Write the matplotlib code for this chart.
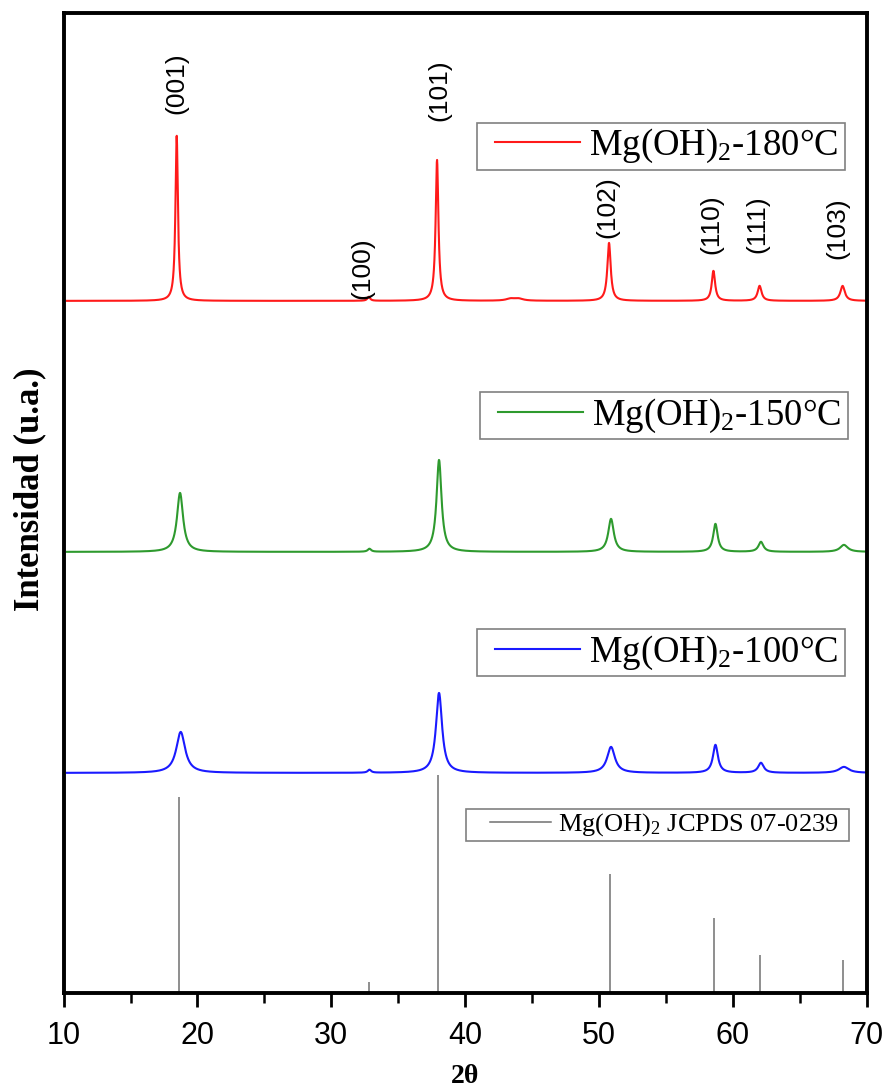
import numpy as np
import matplotlib
matplotlib.use("Agg")
import matplotlib.pyplot as plt
from matplotlib.ticker import MultipleLocator
from matplotlib.legend_handler import HandlerBase
from matplotlib.lines import Line2D

plt.rcParams['mathtext.fontset'] = 'custom'
plt.rcParams['mathtext.rm'] = 'Liberation Serif'
plt.rcParams['mathtext.it'] = 'Liberation Serif:italic'

# ---- data (intensities in arbitrary units) ----
hkl_labels = ["(001)", "(100)", "(101)", "(102)", "(110)", "(111)", "(103)"]
label_x = [18.4, 32.3, 38.1, 50.6, 58.4, 61.8, 67.8]
label_y = [910, 725, 903, 786, 769, 769, 765]

# Reference pattern JCPDS 07-0239
ref_pos = [18.6, 32.8, 38.0, 50.8, 58.6, 62.0, 68.2]
ref_int = [196, 11, 218, 119, 75, 38, 33]

# Mg(OH)2-180°C
pos_180 = [18.45, 32.8, 37.9, 43.4, 44.0, 50.75, 58.55, 62.0, 68.2]
int_180 = [166, 4, 141, 2, 2, 58, 30, 15, 15]
fwhm_180 = [0.22, 0.25, 0.25, 0.8, 0.8, 0.3, 0.3, 0.35, 0.4]
offset_180 = 692

# Mg(OH)2-150°C
pos_150 = [18.7, 32.85, 38.05, 50.9, 58.7, 62.1, 68.3]
int_150 = [59, 3, 92, 33, 28, 10, 7]
fwhm_150 = [0.55, 0.3, 0.45, 0.5, 0.4, 0.45, 0.7]
offset_150 = 441

# Mg(OH)2-100°C
pos_100 = [18.75, 32.85, 38.05, 50.9, 58.7, 62.1, 68.3]
int_100 = [41, 3, 80, 26, 28, 10, 6]
fwhm_100 = [0.8, 0.3, 0.55, 0.7, 0.45, 0.5, 0.9]
offset_100 = 220

two_theta = np.linspace(10.25, 70, 3000)


def profile(x, pos, hts, fw, off):
    y = np.full_like(x, float(off))
    for p, h, w in zip(pos, hts, fw):
        g = (w / 2) ** 2
        y += h * g / ((x - p) ** 2 + g)
    return y


class ShortLine(HandlerBase):
    """Legend handle: a line that leaves a blank gap on its left side."""

    def __init__(self, frac, **kw):
        super().__init__(**kw)
        self.frac = frac

    def create_artists(self, legend, orig_handle, xdescent, ydescent,
                       width, height, fontsize, trans):
        if isinstance(orig_handle, Line2D):
            color = orig_handle.get_color()
            lw = orig_handle.get_linewidth()
        else:
            color = orig_handle.get_colors()[0]
            lw = orig_handle.get_linewidths()[0]
        x0 = -xdescent + width * self.frac
        x1 = -xdescent + width
        y = (height - ydescent) / 2
        line = Line2D([x0, x1], [y, y], color=color, lw=lw)
        line.set_transform(trans)
        return [line]


fig = plt.figure(figsize=(8.88, 10.89), dpi=100)
ax = fig.add_axes([0.0716, 0.0882, 0.9044, 0.9000])

l180, = ax.plot(two_theta, profile(two_theta, pos_180, int_180, fwhm_180, offset_180),
                color='#ff1a1a', lw=1.5)
l150, = ax.plot(two_theta, profile(two_theta, pos_150, int_150, fwhm_150, offset_150),
                color='#2e9a2e', lw=1.5)
l100, = ax.plot(two_theta, profile(two_theta, pos_100, int_100, fwhm_100, offset_100),
                color='#1a1aff', lw=1.5)
ref = ax.vlines(ref_pos, 0, ref_int, color='#707070', lw=1.1)

for t, x, y in zip(hkl_labels, label_x, label_y):
    ax.text(x, y, t, rotation=90, ha='center', va='center',
            fontsize=19, family='Liberation Sans')

ax.set_xlim(10, 70)
ax.set_ylim(0, 980)
ax.xaxis.set_major_locator(MultipleLocator(10))
ax.xaxis.set_minor_locator(MultipleLocator(5))
ax.set_yticks([])
ax.tick_params(axis='x', which='major', direction='out', length=10, width=2.0,
               labelsize=22, pad=10)
ax.tick_params(axis='x', which='minor', direction='out', length=7, width=1.8)
for lab in ax.get_xticklabels():
    lab.set_family('Liberation Sans')
for s in ax.spines.values():
    s.set_linewidth(2.8)

ax.set_xlabel('2θ', fontsize=20, fontweight='bold', family='Liberation Serif')
ax.xaxis.set_label_coords(0.5, -0.073)
ax.set_ylabel('Intensidad (u.a.)', fontsize=25, fontweight='bold',
              family='Liberation Serif')
ax.yaxis.set_label_coords(-0.021, 0.514)

common = dict(frameon=True, fancybox=False, edgecolor='#808080', borderaxespad=0,
              loc='upper right', handlelength=2.66, handletextpad=0.25,
              borderpad=0.12, framealpha=1,
              prop={'family': 'Liberation Serif', 'size': 26.5})

legend_specs = [
    (l180, 'Mg(OH)$_2$-180°C ', (0.9726, 0.8878)),
    (l150, 'Mg(OH)$_2$-150°C ', (0.9763, 0.6133)),
    (l100, 'Mg(OH)$_2$-100°C ', (0.9726, 0.3714)),
]
for h, txt, anchor in legend_specs:
    lg = ax.legend([h], [txt], bbox_to_anchor=anchor,
                   handler_map={Line2D: ShortLine(0.133)}, **common)
    lg.get_frame().set_linewidth(1.2)
    ax.add_artist(lg)

common_ref = dict(common)
common_ref['prop'] = {'family': 'Liberation Serif', 'size': 19}
common_ref['handlelength'] = 3.1
common_ref['handletextpad'] = 0.27
common_ref['borderpad'] = 0.1
leg4 = ax.legend([ref], ['Mg(OH)$_2$ JCPDS 07-0239  '], bbox_to_anchor=(0.9776, 0.1878),
                 handler_map={type(ref): ShortLine(0.26)}, **common_ref)
leg4.get_frame().set_linewidth(1.2)

fig.savefig('out.png', dpi=100)
